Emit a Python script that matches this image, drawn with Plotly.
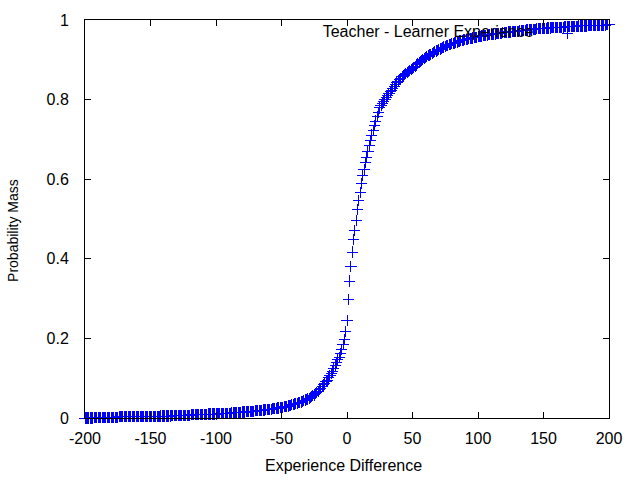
import plotly.graph_objects as go

# x values: integer experience differences from -200 to 200
x_start = -200
x_end = 200
experience_diff = list(range(x_start, x_end + 1))

# cumulative probability mass (one value per integer)
probability_mass = [
    # -200 .. -191
    0.000, 0.000, 0.000, 0.000, 0.000, 0.000, 0.000, 0.001, 0.001, 0.001,
    # -190 .. -181
    0.001, 0.001, 0.001, 0.001, 0.001, 0.001, 0.001, 0.001, 0.002, 0.002,
    # -180 .. -171
    0.002, 0.002, 0.002, 0.002, 0.002, 0.002, 0.003, 0.003, 0.003, 0.003,
    # -170 .. -161
    0.003, 0.003, 0.003, 0.003, 0.003, 0.003, 0.003, 0.003, 0.003, 0.003,
    # -160 .. -151
    0.003, 0.003, 0.003, 0.003, 0.003, 0.004, 0.004, 0.004, 0.004, 0.004,
    # -150 .. -141
    0.004, 0.004, 0.004, 0.004, 0.004, 0.004, 0.004, 0.004, 0.005, 0.005,
    # -140 .. -131
    0.005, 0.005, 0.005, 0.005, 0.005, 0.005, 0.006, 0.006, 0.006, 0.006,
    # -130 .. -121
    0.006, 0.006, 0.006, 0.007, 0.007, 0.007, 0.007, 0.007, 0.007, 0.007,
    # -120 .. -111
    0.007, 0.008, 0.008, 0.008, 0.008, 0.008, 0.008, 0.009, 0.009, 0.009,
    # -110 .. -101
    0.009, 0.009, 0.009, 0.009, 0.010, 0.010, 0.010, 0.010, 0.010, 0.010,
    # -100 .. -91
    0.010, 0.011, 0.011, 0.011, 0.011, 0.011, 0.011, 0.012, 0.012, 0.012,
    # -90 .. -81
    0.012, 0.012, 0.013, 0.013, 0.013, 0.013, 0.014, 0.014, 0.014, 0.014,
    # -80 .. -71
    0.015, 0.015, 0.015, 0.016, 0.016, 0.016, 0.016, 0.017, 0.017, 0.017,
    # -70 .. -61
    0.018, 0.018, 0.018, 0.019, 0.019, 0.019, 0.020, 0.020, 0.021, 0.021,
    # -60 .. -51
    0.022, 0.022, 0.022, 0.023, 0.023, 0.024, 0.024, 0.025, 0.025, 0.026,
    # -50 .. -41
    0.027, 0.027, 0.028, 0.028, 0.029, 0.030, 0.031, 0.032, 0.033, 0.034,
    # -40 .. -31
    0.035, 0.036, 0.037, 0.038, 0.039, 0.040, 0.042, 0.043, 0.045, 0.046,
    # -30 .. -21
    0.048, 0.050, 0.052, 0.054, 0.056, 0.058, 0.061, 0.064, 0.067, 0.071,
    # -20 .. -11
    0.075, 0.079, 0.083, 0.087, 0.091, 0.095, 0.101, 0.106, 0.112, 0.118,
    # -10 .. -1
    0.125, 0.132, 0.140, 0.146, 0.152, 0.161, 0.173, 0.185, 0.198, 0.218,
    # 0 .. 9
    0.245, 0.298, 0.344, 0.380, 0.417, 0.449, 0.472, 0.497, 0.524, 0.546,
    # 10 .. 19
    0.566, 0.590, 0.610, 0.625, 0.641, 0.655, 0.669, 0.684, 0.698, 0.711,
    # 20 .. 29
    0.722, 0.734, 0.746, 0.757, 0.768, 0.779, 0.785, 0.791, 0.796, 0.801,
    # 30 .. 39
    0.806, 0.811, 0.815, 0.820, 0.824, 0.829, 0.833, 0.837, 0.842, 0.846,
    # 40 .. 49
    0.850, 0.853, 0.857, 0.860, 0.863, 0.866, 0.869, 0.871, 0.874, 0.876,
    # 50 .. 59
    0.878, 0.881, 0.884, 0.887, 0.890, 0.893, 0.896, 0.898, 0.901, 0.903,
    # 60 .. 69
    0.906, 0.908, 0.910, 0.912, 0.914, 0.916, 0.918, 0.920, 0.922, 0.923,
    # 70 .. 79
    0.925, 0.927, 0.929, 0.930, 0.932, 0.933, 0.935, 0.936, 0.938, 0.939,
    # 80 .. 89
    0.940, 0.941, 0.942, 0.943, 0.944, 0.945, 0.947, 0.948, 0.949, 0.950,
    # 90 .. 99
    0.951, 0.952, 0.952, 0.953, 0.954, 0.954, 0.955, 0.956, 0.956, 0.957,
    # 100 .. 109
    0.958, 0.959, 0.959, 0.960, 0.961, 0.961, 0.962, 0.962, 0.963, 0.963,
    # 110 .. 119
    0.964, 0.964, 0.965, 0.965, 0.966, 0.966, 0.967, 0.967, 0.967, 0.968,
    # 120 .. 129
    0.968, 0.969, 0.969, 0.970, 0.970, 0.970, 0.971, 0.971, 0.971, 0.972,
    # 130 .. 139
    0.972, 0.972, 0.973, 0.973, 0.974, 0.974, 0.974, 0.975, 0.975, 0.975,
    # 140 .. 149
    0.976, 0.976, 0.977, 0.977, 0.977, 0.978, 0.978, 0.978, 0.978, 0.979,
    # 150 .. 159
    0.979, 0.979, 0.979, 0.980, 0.980, 0.980, 0.981, 0.981, 0.981, 0.981,
    # 160 .. 169
    0.981, 0.982, 0.982, 0.982, 0.982, 0.982, 0.983, 0.983, 0.983, 0.983,
    # 170 .. 179
    0.983, 0.983, 0.984, 0.984, 0.984, 0.984, 0.984, 0.985, 0.985, 0.985,
    # 180 .. 189
    0.985, 0.985, 0.985, 0.985, 0.986, 0.986, 0.986, 0.986, 0.986, 0.986,
    # 190 .. 199
    0.986, 0.987, 0.987, 0.987, 0.987, 0.987, 0.987, 0.987, 0.988, 0.988,
    # 200
    0.988,
]

x_tick_vals = [-200, -150, -100, -50, 0, 50, 100, 150, 200]
x_tick_text = ["-200", "-150", "-100", "-50", "0", "50", "100", "150", "200"]
y_tick_vals = [0, 0.2, 0.4, 0.6, 0.8, 1]
y_tick_text = ["0", "0.2", "0.4", "0.6", "0.8", "1"]

series_name = "Teacher - Learner Experience"
x_title = "Experience Difference"
y_title = "Probability Mass"

FONT = "Liberation Sans, Arial, sans-serif"

fig = go.Figure()
fig.add_trace(go.Scatter(
    x=experience_diff,
    y=probability_mass,
    mode="markers",
    name=" ",
    showlegend=True,
    cliponaxis=False,
    marker=dict(symbol="cross-thin", size=8, color="#0000ff", opacity=1,
                line=dict(color="#0000ff", width=1)),
))

axis_common = dict(
    showline=True, linecolor="black", linewidth=1, mirror="ticks",
    ticks="inside", ticklen=6, tickcolor="black", tickwidth=1,
    showgrid=False, zeroline=False,
    tickfont=dict(family=FONT, size=16, color="black"),
)

fig.update_layout(
    width=640, height=480,
    margin=dict(l=85, r=31, t=20, b=62),
    paper_bgcolor="white", plot_bgcolor="white",
    font=dict(family=FONT, size=16, color="black"),
    xaxis=dict(range=[x_start, x_end], tickvals=x_tick_vals, ticktext=x_tick_text,
               ticklabelstandoff=6, **axis_common),
    yaxis=dict(range=[0, 1], tickvals=y_tick_vals, ticktext=y_tick_text,
               ticklabelstandoff=12, **axis_common),
    legend=dict(
        orientation="h",
        title=dict(text=series_name + "\u00a0\u200a", side="left",
                   font=dict(family=FONT, size=16, color="black")),
        x=0.9784, xanchor="right", y=0.966, yanchor="middle",
        bgcolor="rgba(0,0,0,0)", borderwidth=0,
        itemwidth=30,
    ),
    annotations=[
        dict(text=x_title, xref="paper", yref="paper", x=0.494, y=-0.1206,
             xanchor="center", yanchor="middle", showarrow=False,
             font=dict(family=FONT, size=16, color="black")),
        dict(text=y_title, xref="paper", yref="paper", x=-0.1374, y=0.47,
             xanchor="center", yanchor="middle", showarrow=False, textangle=-90,
             font=dict(family=FONT, size=14, color="black")),
    ],
)

crisp_js = """
var st = document.createElement('style');
st.innerHTML = '.scatterlayer .point, .legendpoints .point, .legendpoints path { shape-rendering: crispEdges; }';
document.head.appendChild(st);
"""

fig.write_html("out.html", post_script=crisp_js)
